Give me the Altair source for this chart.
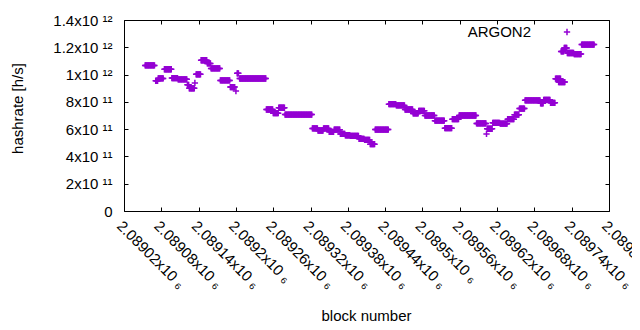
import json
import altair as alt
import pandas as pd

# step segments: first block, last block, hashrate (x1e11 h/s)
seg_start = [2089054, 2089071, 2089075, 2089085, 2089097, 2089107, 2089122, 2089125, 2089134, 2089136,
             2089144, 2089154, 2089160, 2089175, 2089191, 2089200, 2089202, 2089206, 2089249, 2089260,
             2089269, 2089279, 2089323, 2089332, 2089341, 2089350, 2089358, 2089368, 2089376, 2089384,
             2089398, 2089407, 2089416, 2089424, 2089446, 2089458, 2089472, 2089485, 2089494, 2089504,
             2089520, 2089536, 2089548, 2089559, 2089587, 2089603, 2089604, 2089613, 2089625, 2089637,
             2089648, 2089656, 2089665, 2089690, 2089695, 2089706, 2089714, 2089719, 2089723, 2089728,
             2089733, 2089744, 2089756]
seg_end = [2089069, 2089074, 2089083, 2089096, 2089106, 2089121, 2089124, 2089133, 2089134, 2089143,
           2089153, 2089159, 2089174, 2089190, 2089198, 2089200, 2089204, 2089248, 2089259, 2089268,
           2089278, 2089322, 2089331, 2089340, 2089349, 2089357, 2089367, 2089375, 2089383, 2089397,
           2089406, 2089415, 2089423, 2089445, 2089457, 2089471, 2089484, 2089493, 2089503, 2089519,
           2089535, 2089547, 2089558, 2089586, 2089602, 2089603, 2089612, 2089624, 2089636, 2089647,
           2089655, 2089664, 2089689, 2089694, 2089705, 2089713, 2089722, 2089729, 2089727, 2089732,
           2089743, 2089755, 2089776]
seg_value = [10.67, 9.54, 9.72, 10.39, 9.74, 9.65, 9.25, 8.99, 9.38, 10.02,
             11.05, 10.82, 10.45, 9.57, 9.08, 8.79, 10.09, 9.71, 7.44, 7.17,
             7.57, 7.07, 6.05, 5.90, 6.05, 5.80, 5.96, 5.65, 5.55, 5.51,
             5.29, 5.21, 4.90, 5.97, 7.83, 7.74, 7.44, 7.15, 7.34, 7.00,
             6.62, 6.07, 6.73, 7.00, 6.42, 5.65, 6.03, 6.46, 6.40, 6.73,
             7.06, 7.51, 8.11, 7.90, 8.15, 7.93, 9.70, 9.45, 11.70, 11.95,
             11.58, 11.50, 12.20]

x_tick_values = [2089020, 2089080, 2089140, 2089200, 2089260, 2089320, 2089380,
                 2089440, 2089500, 2089560, 2089620, 2089680, 2089740, 2089800]
x_tick_labels = ["2.08902x10 ₆", "2.08908x10 ₆", "2.08914x10 ₆", "2.0892x10 ₆",
                 "2.08926x10 ₆", "2.08932x10 ₆", "2.08938x10 ₆", "2.08944x10 ₆",
                 "2.0895x10 ₆", "2.08956x10 ₆", "2.08962x10 ₆", "2.08968x10 ₆",
                 "2.08974x10 ₆", "2.0898x10 ₆"]
y_tick_values = [0, 2e11, 4e11, 6e11, 8e11, 1e12, 1.2e12, 1.4e12]
y_tick_labels = ["0", "2x10 ¹¹", "4x10 ¹¹", "6x10 ¹¹", "8x10 ¹¹", "1x10 ¹²",
                 "1.2x10 ¹²", "1.4x10 ¹²"]

series_name = ["ARGON2"]

rows = []
for s, e, v in zip(seg_start, seg_end, seg_value):
    for b in range(s, e + 1):
        rows.append({"block": b, "hashrate": v * 1e11})
df = pd.DataFrame(rows)

PURPLE = "#9400D3"
PLUS = "M-1,0L1,0M0,-1L0,1"
FONT = "Liberation Sans"

x_expr = f"{json.dumps(x_tick_labels, ensure_ascii=False)}[indexof({json.dumps(x_tick_values)}, datum.value)]"
y_expr = f"{json.dumps(y_tick_labels, ensure_ascii=False)}[indexof({json.dumps(y_tick_values)}, datum.value)]"

x_scale = alt.Scale(domain=[2089020, 2089800], nice=False, zero=False)
y_scale = alt.Scale(domain=[0, 1.4e12], nice=False)

x_axis = alt.Axis(values=x_tick_values, labelExpr=x_expr, labelAngle=45, labelAlign="left",
                  labelBaseline="top", labelPadding=7, tickSize=4, offset=-4, domain=False,
                  grid=False, labelOverlap=False, labelFlush=False,
                  title="block number", titleX=242, titleY=108, titleAlign="center",
                  titleBaseline="middle")
y_axis = alt.Axis(values=y_tick_values, labelExpr=y_expr, labelPadding=12, tickSize=4,
                  offset=-4, domain=False, grid=False, labelOverlap=False, labelFlush=False,
                  title="hashrate [h/s]", titleX=-111, titleY=88, titleAngle=270,
                  titleAlign="center", titleBaseline="middle")
x_axis_top = alt.Axis(orient="top", values=x_tick_values, labels=False, tickSize=4, offset=-4,
                      domain=False, grid=False, title="")
y_axis_right = alt.Axis(orient="right", values=y_tick_values, labels=False, tickSize=4, offset=-4,
                        domain=False, grid=False, title="")

points = alt.Chart(df).mark_point(shape=PLUS, filled=False, size=40, strokeWidth=1.5,
                                  color=PURPLE, opacity=1).encode(
    x=alt.X("block:Q", scale=x_scale, axis=x_axis),
    y=alt.Y("hashrate:Q", scale=y_scale, axis=y_axis),
)
mirror = alt.Chart(df).mark_point(opacity=0).encode(
    x=alt.X("block:Q", scale=x_scale, axis=x_axis_top),
    y=alt.Y("hashrate:Q", scale=y_scale, axis=y_axis_right),
)
leg_df = pd.DataFrame({"label": series_name})
leg_text = alt.Chart(leg_df).mark_text(font=FONT, fontSize=15, align="right",
                                       baseline="middle", color="black").encode(
    text="label:N", x=alt.value(407), y=alt.value(12))
leg_mark = alt.Chart(leg_df).mark_point(shape=PLUS, filled=False, size=40, strokeWidth=1.5,
                                        color=PURPLE, opacity=1).encode(
    x=alt.value(443), y=alt.value(12))

chart = alt.layer(points, mirror, leg_text, leg_mark).resolve_axis(
    x="independent", y="independent"
).properties(
    width=485, height=191,
    background="white",
    autosize=alt.AutoSizeParams(type="none"),
    padding={"left": 116, "top": 12, "right": 23, "bottom": 111},
).configure_view(stroke="black", strokeWidth=1).configure_axis(
    labelFont=FONT, titleFont=FONT, labelFontSize=15, titleFontSize=15,
    labelColor="black", titleColor="black", tickColor="black", titleFontWeight="normal",
)

chart.save("out.html", embed_options={"renderer": "svg", "actions": False})
